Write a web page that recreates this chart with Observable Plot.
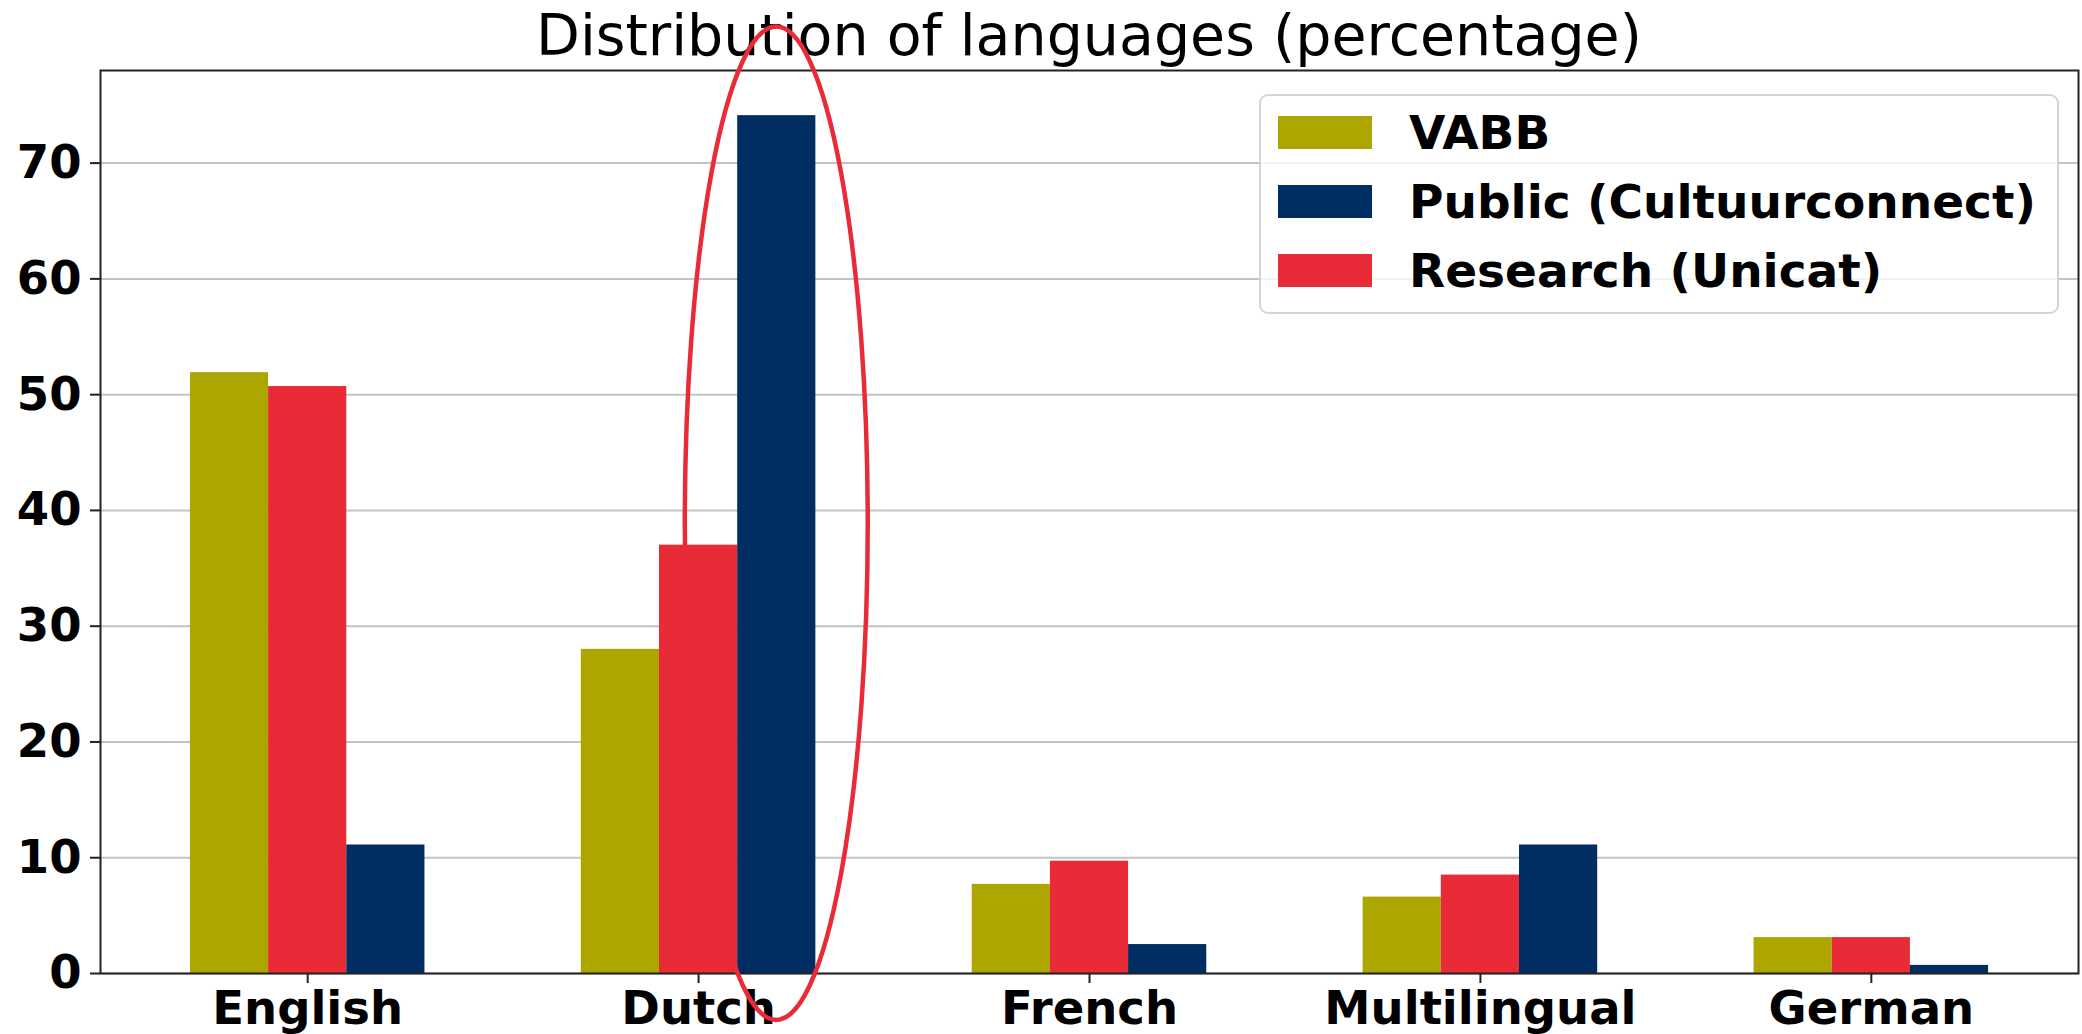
<!DOCTYPE html>
<html><head><meta charset="utf-8">
<script src="https://cdn.jsdelivr.net/npm/d3@7"></script>
<script src="https://cdn.jsdelivr.net/npm/@observablehq/plot@0.6"></script>
<style>
body{margin:0;background:#fff}
#wrap{position:relative;width:2082px;height:1034px;overflow:hidden}
.legend{position:absolute;left:1259px;top:94px;width:796px;height:216px;border:2px solid #d4d4d4;border-radius:9px;background:rgba(255,255,255,0.8);font-family:"DejaVu Sans";font-weight:bold;font-size:47px;color:#000}
.legend .row{position:absolute;left:17px;height:69px;display:flex;align-items:center}
.legend .sw{width:94px;height:33px;margin-right:37px}
</style>
</head><body><div id="wrap"></div>
<script>
const title = "Distribution of languages (percentage)";
const languages = ["English", "Dutch", "French", "Multilingual", "German"];
const seriesNames = ["VABB", "Research (Unicat)", "Public (Cultuurconnect)"]; // bar order in each group
const legendOrder = ["VABB", "Public (Cultuurconnect)", "Research (Unicat)"];
const seriesColors = ["#ada600", "#e92b38", "#002e63"];
const vabb = [51.9, 28.0, 7.7, 6.6, 3.1];
const research = [50.7, 37.0, 9.7, 8.5, 3.1];
const publicCC = [11.1, 74.1, 2.5, 11.1, 0.7];
const yTicks = [0, 10, 20, 30, 40, 50, 60, 70];
// annotation ellipse around Dutch / Public bar (center value and half-height in y units)
const highlight = {lang: "Dutch", series: "Public (Cultuurconnect)", cy: 38.85, ry: 42.9, rxBars: 1.17};

const seriesValues = [vabb, research, publicCC];
const barWidth = 0.2;
const data = [];
languages.forEach((lang, i) => {
  seriesNames.forEach((s, j) => {
    data.push({lang, i, series: s, offset: (j - 1) * barWidth, value: seriesValues[j][i]});
  });
});

const chart = Plot.plot({
  width: 2082, height: 1034,
  marginTop: 70, marginBottom: 61, marginLeft: 100, marginRight: 4,
  x: {domain: [-0.53, 4.53]},
  y: {domain: [0, 78]},
  color: {domain: seriesNames, range: seriesColors},
  style: {fontFamily: "DejaVu Sans", fontSize: "46.5px", fontWeight: "bold", color: "#000", background: "#fff", overflow: "visible"},
  marks: [
    Plot.gridY(yTicks, {stroke: "#c4c4c4", strokeOpacity: 1, strokeWidth: 2}),
    Plot.rectY(data, {
      x1: d => d.i + d.offset - barWidth / 2,
      x2: d => d.i + d.offset + barWidth / 2,
      y1: 0, y2: "value", fill: "series"
    }),
    Plot.axisY(yTicks, {tickSize: 10, tickPadding: 9, label: null, stroke: "#222", strokeWidth: 2}),
    Plot.axisX(languages.map((_, i) => i), {tickSize: 10, tickPadding: 7, tickFormat: i => languages[i], label: null, stroke: "#222", strokeWidth: 2}),
    Plot.frame({stroke: "#222", strokeWidth: 2})
  ]
});

document.getElementById("wrap").appendChild(chart);

const xs = chart.scale("x"), ys = chart.scale("y");
const svg = d3.select(chart);
svg.append("text")
  .attr("x", (xs.apply(-0.53) + xs.apply(4.53)) / 2)
  .attr("y", 55)
  .attr("text-anchor", "middle")
  .style("font-size", "57px").style("font-weight", "normal").style("font-family", "DejaVu Sans")
  .attr("fill", "#000")
  .text(title);

const hi = data.find(d => d.lang === highlight.lang && d.series === highlight.series);
const cx = xs.apply(hi.i + hi.offset);
svg.append("ellipse")
  .attr("cx", cx)
  .attr("cy", ys.apply(highlight.cy))
  .attr("rx", xs.apply(hi.i + hi.offset + barWidth * highlight.rxBars) - cx)
  .attr("ry", ys.apply(0) - ys.apply(highlight.ry))
  .attr("fill", "none")
  .attr("stroke", seriesColors[1])
  .attr("stroke-width", 4.5);

const legend = document.createElement("div");
legend.className = "legend";
legendOrder.forEach((name, k) => {
  const row = document.createElement("div");
  row.className = "row";
  row.style.top = (2 + k * 69) + "px";
  const sw = document.createElement("div");
  sw.className = "sw";
  sw.style.background = seriesColors[seriesNames.indexOf(name)];
  const lab = document.createElement("span");
  lab.textContent = name;
  row.appendChild(sw); row.appendChild(lab);
  legend.appendChild(row);
});
document.getElementById("wrap").appendChild(legend);
</script>
</body></html>
